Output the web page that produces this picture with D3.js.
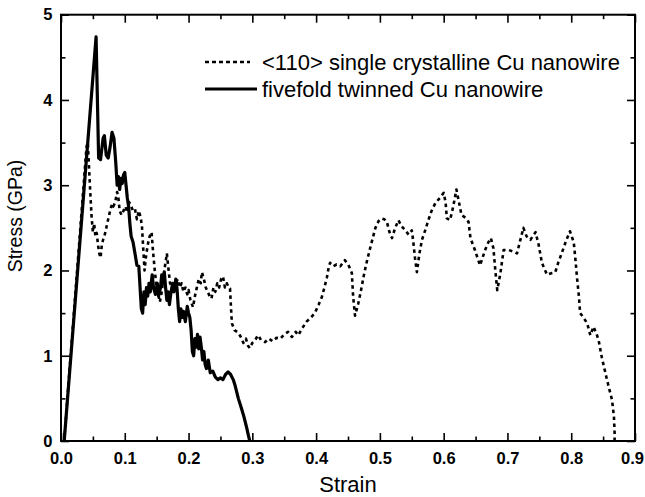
<!DOCTYPE html>
<html><head><meta charset="utf-8">
<script src="https://cdn.jsdelivr.net/npm/d3@7"></script>
<style>
body{margin:0;background:#fff;}
text{font-family:"Liberation Sans",Arial,sans-serif;}
</style></head>
<body><svg id="c" width="645" height="497"></svg>
<script>
// ---- data ----
const xTicks = [0.0,0.1,0.2,0.3,0.4,0.5,0.6,0.7,0.8,0.9];
const xMinor = [0.05,0.15,0.25,0.35,0.45,0.55,0.65,0.75,0.85];
const yTicks = [0,1,2,3,4,5];
const yMinor = [0.5,1.5,2.5,3.5,4.5];
const seriesNames = ["<110> single crystalline Cu nanowire","fivefold twinned Cu nanowire"];

const singleStrain = [0.005,0.040,0.042,0.044,0.046,0.048,0.050,0.052,0.054,0.056,0.058,0.060,0.062,0.064,0.066,0.068,0.071,0.074,0.077,0.080,0.082,0.085,0.088,0.090,0.092,0.095,0.098,0.101,0.104,0.107,0.110,0.113,0.116,0.119,0.122,0.125,0.127,0.129,0.131,0.133,0.136,0.139,0.142,0.144,0.147,0.150,0.153,0.155,0.158,0.161,0.164,0.166,0.168,0.171,0.174,0.177,0.180,0.183,0.186,0.189,0.192,0.195,0.198,0.200,0.203,0.207,0.210,0.213,0.216,0.219,0.221,0.224,0.227,0.230,0.233,0.236,0.239,0.242,0.245,0.248,0.251,0.254,0.257,0.260,0.263,0.265,0.267,0.268,0.272,0.278,0.282,0.286,0.290,0.293,0.296,0.300,0.304,0.309,0.314,0.320,0.326,0.332,0.338,0.344,0.350,0.356,0.362,0.368,0.372,0.378,0.385,0.392,0.398,0.404,0.409,0.413,0.417,0.420,0.422,0.427,0.432,0.438,0.445,0.450,0.456,0.458,0.461,0.466,0.470,0.475,0.480,0.486,0.493,0.498,0.503,0.507,0.511,0.515,0.519,0.524,0.529,0.534,0.540,0.545,0.550,0.552,0.555,0.558,0.562,0.566,0.571,0.576,0.581,0.587,0.594,0.600,0.603,0.605,0.610,0.615,0.620,0.624,0.628,0.634,0.639,0.642,0.646,0.649,0.653,0.657,0.661,0.665,0.670,0.674,0.678,0.681,0.684,0.689,0.694,0.702,0.710,0.715,0.720,0.725,0.730,0.736,0.744,0.749,0.754,0.762,0.770,0.775,0.780,0.785,0.792,0.798,0.804,0.807,0.809,0.812,0.814,0.819,0.825,0.830,0.835,0.840,0.843,0.848,0.852,0.856,0.860,0.864,0.866,0.867,0.868,0.868];
const singleStress = [0,3.45,3.50,3.20,2.90,2.63,2.45,2.55,2.40,2.44,2.30,2.20,2.15,2.30,2.36,2.40,2.50,2.60,2.70,2.78,2.75,2.80,2.92,2.85,2.70,2.65,2.70,2.75,2.68,2.80,2.75,2.70,2.72,2.60,2.70,2.62,2.51,2.25,2.00,2.15,2.30,2.40,2.45,2.25,2.00,1.80,1.70,1.63,1.75,1.95,2.10,2.20,2.05,1.85,1.80,1.75,1.85,1.90,1.80,1.85,1.75,1.80,1.72,1.77,1.65,1.57,1.70,1.80,1.90,1.85,1.98,1.90,1.80,1.75,1.70,1.67,1.80,1.75,1.85,1.80,1.90,1.93,1.80,1.85,1.80,1.79,1.50,1.38,1.30,1.27,1.22,1.15,1.20,1.12,1.09,1.15,1.18,1.24,1.18,1.16,1.20,1.17,1.21,1.20,1.25,1.28,1.22,1.28,1.24,1.32,1.40,1.45,1.50,1.60,1.69,1.80,1.92,2.05,2.09,2.05,2.07,2.05,2.12,2.08,1.97,1.70,1.47,1.61,1.75,1.95,2.12,2.30,2.50,2.58,2.61,2.60,2.57,2.45,2.38,2.50,2.59,2.52,2.47,2.42,2.47,2.36,2.15,1.98,2.20,2.36,2.47,2.59,2.70,2.79,2.85,2.91,2.80,2.61,2.59,2.75,2.95,2.80,2.65,2.62,2.57,2.38,2.30,2.24,2.15,2.06,2.15,2.24,2.33,2.38,2.26,2.00,1.77,1.97,2.24,2.24,2.22,2.20,2.35,2.50,2.40,2.36,2.45,2.30,2.09,1.95,1.97,1.98,2.10,2.20,2.35,2.46,2.33,2.10,1.92,1.70,1.50,1.45,1.38,1.24,1.34,1.25,1.18,0.98,0.85,0.72,0.60,0.48,0.35,0.28,0.10,0];

const twinStrain = [0.005,0.055,0.059,0.062,0.066,0.068,0.071,0.074,0.077,0.080,0.083,0.086,0.088,0.090,0.092,0.094,0.096,0.098,0.100,0.102,0.104,0.106,0.108,0.110,0.113,0.116,0.119,0.122,0.124,0.126,0.128,0.130,0.132,0.134,0.136,0.138,0.140,0.143,0.145,0.148,0.151,0.153,0.156,0.158,0.160,0.162,0.164,0.166,0.168,0.170,0.172,0.175,0.177,0.180,0.182,0.184,0.186,0.188,0.190,0.192,0.195,0.198,0.200,0.202,0.204,0.206,0.208,0.210,0.212,0.214,0.216,0.218,0.220,0.222,0.224,0.226,0.228,0.231,0.234,0.238,0.242,0.246,0.250,0.254,0.258,0.262,0.266,0.270,0.273,0.278,0.283,0.287,0.291,0.294,0.296];
const twinStress = [0,4.74,3.32,3.30,3.55,3.58,3.35,3.32,3.45,3.62,3.55,3.25,3.00,3.10,2.95,3.08,3.02,3.12,3.15,3.00,2.85,2.75,2.55,2.40,2.33,2.20,2.06,2.05,1.80,1.55,1.50,1.75,1.60,1.80,1.70,1.85,1.75,1.95,1.80,1.72,1.85,1.70,1.80,1.95,1.85,1.98,1.80,1.65,1.75,1.60,1.72,1.85,1.75,1.90,1.78,1.55,1.40,1.55,1.45,1.52,1.40,1.58,1.50,1.45,1.30,1.05,1.00,1.20,1.10,1.25,1.08,1.22,1.10,0.95,1.05,0.90,0.85,0.95,0.80,0.82,0.75,0.72,0.74,0.72,0.78,0.81,0.78,0.72,0.65,0.50,0.38,0.28,0.16,0.06,0];

// ---- layout ----
const svg = d3.select("#c");
const L = 61, R = 635, T = 14.7, B = 441;
const x = d3.scaleLinear().domain([0,0.9]).range([L,R]);
const y = d3.scaleLinear().domain([0,5]).range([B,T]);

function styleAxis(g){
  g.select(".domain").remove();
  g.selectAll(".tick line").attr("stroke","#000").attr("stroke-width",1.6);
}
const tickFont = g=>g.selectAll("text").attr("font-size",16.5).attr("font-weight","bold").attr("fill","#000").attr("font-family","Liberation Sans, Arial, sans-serif");
// bottom
svg.append("g").attr("transform",`translate(0,${B})`)
  .call(d3.axisBottom(x).tickValues(xTicks).tickSize(-8).tickPadding(11).tickFormat(d3.format(".1f")))
  .call(styleAxis).call(tickFont)
  .call(g=>g.selectAll(".tick text").filter(d=>d===0.9).attr("dx",-3));
svg.append("g").attr("transform",`translate(0,${B})`)
  .call(d3.axisBottom(x).tickValues(xMinor).tickSize(-4.5).tickFormat(""))
  .call(styleAxis);
// top
svg.append("g").attr("transform",`translate(0,${T})`)
  .call(d3.axisTop(x).tickValues(xTicks).tickSize(-8).tickFormat(""))
  .call(styleAxis);
svg.append("g").attr("transform",`translate(0,${T})`)
  .call(d3.axisTop(x).tickValues(xMinor).tickSize(-4.5).tickFormat(""))
  .call(styleAxis);
// left
svg.append("g").attr("transform",`translate(${L},0)`)
  .call(d3.axisLeft(y).tickValues(yTicks).tickSize(-8).tickPadding(8.5).tickFormat(d3.format("d")))
  .call(styleAxis).call(tickFont);
svg.append("g").attr("transform",`translate(${L},0)`)
  .call(d3.axisLeft(y).tickValues(yMinor).tickSize(-4.5).tickFormat(""))
  .call(styleAxis);
// right
svg.append("g").attr("transform",`translate(${R},0)`)
  .call(d3.axisRight(y).tickValues(yTicks).tickSize(-8).tickFormat(""))
  .call(styleAxis);
svg.append("g").attr("transform",`translate(${R},0)`)
  .call(d3.axisRight(y).tickValues(yMinor).tickSize(-4.5).tickFormat(""))
  .call(styleAxis);

// frame
svg.append("rect").attr("x",L).attr("y",T).attr("width",R-L).attr("height",B-T)
  .attr("fill","none").attr("stroke","#000").attr("stroke-width",2);

// lines
const line = d3.line().x(d=>x(d[0])).y(d=>y(d[1]));
const singleData = singleStrain.map((s,i)=>[s,singleStress[i]]);
const twinData = twinStrain.map((s,i)=>[s,twinStress[i]]);
svg.append("path").datum(singleData).attr("d",line)
  .attr("fill","none").attr("stroke","#000").attr("stroke-width",2.6)
  .attr("stroke-dasharray","3.5,3.5").attr("stroke-linejoin","round");
svg.append("path").datum(twinData).attr("d",line)
  .attr("fill","none").attr("stroke","#000").attr("stroke-width",3.2)
  .attr("stroke-linejoin","round");

// legend
const leg = svg.append("g");
leg.append("line").attr("x1",205).attr("x2",250).attr("y1",62).attr("y2",62)
  .attr("stroke","#000").attr("stroke-width",2.6).attr("stroke-dasharray","4,3");
leg.append("line").attr("x1",205).attr("x2",257).attr("y1",89).attr("y2",89)
  .attr("stroke","#000").attr("stroke-width",3);
leg.append("text").attr("x",262).attr("y",69.5).attr("font-size",22).text(seriesNames[0]);
leg.append("text").attr("x",262).attr("y",96.5).attr("font-size",22).text(seriesNames[1]);

// axis titles
svg.append("text").attr("x",348).attr("y",492).attr("text-anchor","middle").attr("font-size",22).text("Strain");
svg.append("text").attr("transform","translate(22,216) rotate(-90)").attr("text-anchor","middle").attr("font-size",19.5).text("Stress (GPa)");
</script></body></html>
